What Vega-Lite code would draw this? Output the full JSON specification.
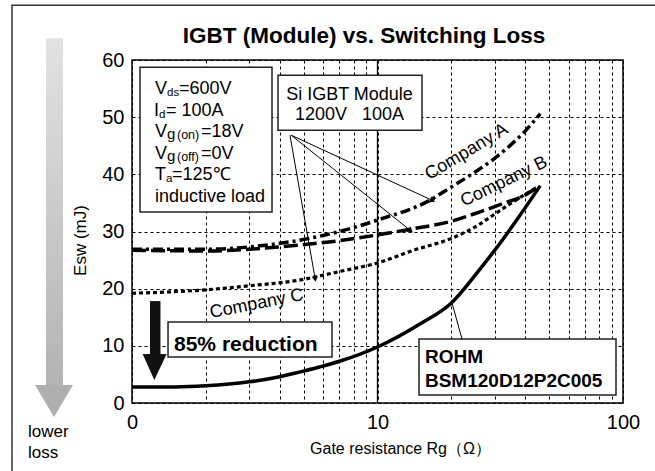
{
  "$schema": "https://vega.github.io/schema/vega-lite/v6.json",
  "width": 491,
  "height": 343,
  "autosize": {"type": "none"},
  "padding": {"left": 132, "top": 60, "right": 32, "bottom": 68},
  "background": "white",
  "config": {"font": "Liberation Sans", "view": {"stroke": "#000", "strokeWidth": 1.5}},
  "datasets": {
    "frame": [{"x": 0.3245, "x2": 200, "y": 69.58, "y2": -20}],
    "grayShaft": [{"x": 0.4465, "x2": 0.5235, "y": 63.81, "y2": 2.97}],
    "grayHead": [{"x": 0.4026, "y": 3.15, "y2": 3.15}, {"x": 0.4812, "y": 3.15, "y2": -2.45}, {"x": 0.5751, "y": 3.15, "y2": 3.15}],
    "vline": [{"x": 10, "y": 0, "y2": 60}],
    "curves": [
      {"series": "A", "x": 1, "y": 26.9}, {"series": "A", "x": 2, "y": 26.9}, {"series": "A", "x": 3, "y": 27.3}, {"series": "A", "x": 4.7, "y": 28.4}, {"series": "A", "x": 7, "y": 30.0}, {"series": "A", "x": 10, "y": 32.0}, {"series": "A", "x": 16.4, "y": 35.5}, {"series": "A", "x": 20, "y": 37.8}, {"series": "A", "x": 25, "y": 40.4}, {"series": "A", "x": 30, "y": 42.8}, {"series": "A", "x": 35, "y": 45.2}, {"series": "A", "x": 40, "y": 47.6}, {"series": "A", "x": 46, "y": 50.6},
      {"series": "B", "x": 1, "y": 26.7}, {"series": "B", "x": 2, "y": 26.6}, {"series": "B", "x": 3, "y": 26.9}, {"series": "B", "x": 4.7, "y": 27.6}, {"series": "B", "x": 7, "y": 28.4}, {"series": "B", "x": 10, "y": 29.4}, {"series": "B", "x": 13.6, "y": 30.4}, {"series": "B", "x": 20, "y": 31.8}, {"series": "B", "x": 26, "y": 33.4}, {"series": "B", "x": 33, "y": 35.0}, {"series": "B", "x": 40, "y": 36.4}, {"series": "B", "x": 46, "y": 38.1},
      {"series": "C", "x": 1, "y": 19.2}, {"series": "C", "x": 2, "y": 19.8}, {"series": "C", "x": 3, "y": 20.5}, {"series": "C", "x": 4.8, "y": 21.5}, {"series": "C", "x": 7, "y": 23.0}, {"series": "C", "x": 10, "y": 24.5}, {"series": "C", "x": 14, "y": 26.7}, {"series": "C", "x": 20, "y": 28.8}, {"series": "C", "x": 25, "y": 30.8}, {"series": "C", "x": 29, "y": 32.6}, {"series": "C", "x": 34, "y": 34.6}, {"series": "C", "x": 40, "y": 36.5}, {"series": "C", "x": 45, "y": 37.8},
      {"series": "R", "x": 1, "y": 2.8}, {"series": "R", "x": 1.5, "y": 2.8}, {"series": "R", "x": 2, "y": 3.0}, {"series": "R", "x": 3, "y": 3.7}, {"series": "R", "x": 4, "y": 4.6}, {"series": "R", "x": 4.8, "y": 5.4}, {"series": "R", "x": 5.8, "y": 6.3}, {"series": "R", "x": 7, "y": 7.3}, {"series": "R", "x": 10, "y": 9.8}, {"series": "R", "x": 15, "y": 13.9}, {"series": "R", "x": 20, "y": 17.5}, {"series": "R", "x": 26, "y": 23.3}, {"series": "R", "x": 32, "y": 28.3}, {"series": "R", "x": 38, "y": 32.8}, {"series": "R", "x": 46, "y": 38.0}
    ],
    "blackShaft": [{"x": 1.184, "x2": 1.306, "y": 17.83, "y2": 8.4}],
    "blackHead": [{"x": 1.105, "y": 8.57, "y2": 8.57}, {"x": 1.233, "y": 8.57, "y2": 4.02}, {"x": 1.384, "y": 8.57, "y2": 8.57}],
    "boxes": [
      {"name": "cond", "x": 1.078, "x2": 3.718, "y": 58.74, "y2": 33.39},
      {"name": "si", "x": 3.933, "x2": 15.18, "y": 57.34, "y2": 47.73},
      {"name": "red", "x": 1.402, "x2": 6.527, "y": 14.16, "y2": 8.04},
      {"name": "rohm", "x": 14.76, "x2": 93.65, "y": 11.19, "y2": 1.40}
    ],
    "leaders": [
      {"x": 4.40, "y": 46.85, "x2": 5.566, "y2": 21.85},
      {"x": 4.45, "y": 46.85, "x2": 13.56, "y2": 30.24},
      {"x": 4.45, "y": 46.85, "x2": 16.63, "y2": 35.49},
      {"x": 20.12, "y": 17.48, "x2": 22.09, "y2": 11.19}
    ],
    "tipC": [{"x": 5.566, "y": 21.85}],
    "tipB": [{"x": 13.56, "y": 30.24}],
    "tipA": [{"x": 16.63, "y": 35.49}],
    "title": [{"x": 8.81, "y": 62.94, "t": "IGBT (Module) vs. Switching Loss"}],
    "condBig": [
      {"x": 1.241, "y": 54.02, "t": "V"}, {"x": 1.554, "y": 54.02, "t": "=600V"},
      {"x": 1.229, "y": 50.26, "t": "I"}, {"x": 1.375, "y": 50.26, "t": "= 100A"},
      {"x": 1.241, "y": 46.50, "t": "V"}, {"x": 1.910, "y": 46.50, "t": "=18V"},
      {"x": 1.241, "y": 42.74, "t": "V"}, {"x": 1.910, "y": 42.74, "t": "=0V"},
      {"x": 1.241, "y": 38.99, "t": "T"}, {"x": 1.455, "y": 38.99, "t": "=125℃"},
      {"x": 1.241, "y": 35.23, "t": "inductive load"}
    ],
    "condSub": [
      {"x": 1.389, "y": 53.67, "t": "ds"}, {"x": 1.288, "y": 49.91, "t": "d"}, {"x": 1.375, "y": 38.64, "t": "a"}
    ],
    "condG": [{"x": 1.389, "y": 46.15, "t": "g"}, {"x": 1.389, "y": 42.39, "t": "g"}],
    "condParen": [{"x": 1.525, "y": 46.15, "t": "(on)"}, {"x": 1.525, "y": 42.39, "t": "(off)"}],
    "siText": [{"x": 7.69, "y": 52.97, "t": "Si IGBT Module"}, {"x": 7.69, "y": 49.48, "t": "1200V\u00a0\u00a0\u00a0100A"}],
    "redText": [{"x": 1.483, "y": 9.14, "t": "85% reduction"}],
    "rohmText": [{"x": 15.61, "y": 6.99, "t": "ROHM"}, {"x": 15.61, "y": 2.80, "t": "BSM120D12P2C005"}],
    "labA": [{"x": 23.08, "y": 43.9, "t": "Company A"}],
    "labB": [{"x": 32.75, "y": 38.7, "t": "Company B"}],
    "labC": [{"x": 3.221, "y": 17.31, "t": "Company C"}],
    "lower": [{"x": 0.3771, "y": -5.94, "t": "lower"}, {"x": 0.3771, "y": -9.62, "t": "loss"}]
  },
  "encoding": {
    "x": {
      "field": "x", "type": "quantitative",
      "scale": {"type": "log", "domain": [1, 100], "nice": false},
      "axis": {
        "values": [1, 2, 3, 4, 5, 6, 7, 8, 9, 10, 20, 30, 40, 50, 60, 70, 80, 90, 100],
        "labelExpr": "datum.value == 1 ? '0' : datum.value == 10 ? '10' : datum.value == 100 ? '100' : ''",
        "labelFlush": false, "labelOverlap": false,
        "grid": true, "gridDash": [3, 3], "gridColor": "#000", "gridWidth": 1,
        "ticks": false, "domain": false,
        "labelFontSize": 20, "labelColor": "#000", "labelPadding": 9,
        "title": "Gate resistance Rg（Ω）", "titleFontSize": 16, "titleFontWeight": "normal", "titleColor": "#000",
        "titleX": 268, "titleY": 50, "titleBaseline": "alphabetic"
      }
    },
    "y": {
      "field": "y", "type": "quantitative",
      "scale": {"domain": [0, 60], "nice": false, "zero": false},
      "axis": {
        "values": [0, 10, 20, 30, 40, 50, 60],
        "grid": true, "gridDash": [3, 3], "gridColor": "#000", "gridWidth": 1,
        "ticks": false, "domain": false,
        "labelFontSize": 20, "labelColor": "#000", "labelPadding": 8,
        "title": "Esw (mJ)", "titleFontSize": 17, "titleFontWeight": "normal", "titleColor": "#000",
        "titleX": -43, "titleY": 180
      }
    }
  },
  "layer": [
    {"data": {"name": "frame"}, "mark": {"type": "rect", "filled": false, "stroke": "#333", "strokeWidth": 1.5}, "encoding": {"x2": {"field": "x2"}, "y2": {"field": "y2"}}},
    {"data": {"name": "grayShaft"}, "mark": {"type": "rect", "fill": {"gradient": "linear", "x1": 0, "y1": 0, "x2": 0, "y2": 1, "stops": [{"offset": 0, "color": "#e2e2e2"}, {"offset": 1, "color": "#b3b3b3"}]}}, "encoding": {"x2": {"field": "x2"}, "y2": {"field": "y2"}}},
    {"data": {"name": "grayHead"}, "mark": {"type": "area", "orient": "vertical", "color": "#afafaf"}, "encoding": {"y2": {"field": "y2"}}},
    {"data": {"name": "vline"}, "mark": {"type": "rule", "color": "#000", "strokeWidth": 1.3}, "encoding": {"y2": {"field": "y2"}}},
    {"data": {"name": "curves"}, "transform": [{"filter": "datum.series == 'A'"}], "mark": {"type": "line", "color": "#000", "strokeWidth": 3.5, "strokeDash": [10, 4, 3, 4], "interpolate": "monotone"}, "encoding": {}},
    {"data": {"name": "curves"}, "transform": [{"filter": "datum.series == 'B'"}], "mark": {"type": "line", "color": "#000", "strokeWidth": 3.5, "strokeDash": [14, 5], "interpolate": "monotone"}, "encoding": {}},
    {"data": {"name": "curves"}, "transform": [{"filter": "datum.series == 'C'"}], "mark": {"type": "line", "color": "#000", "strokeWidth": 3.2, "strokeDash": [4, 3], "interpolate": "monotone"}, "encoding": {}},
    {"data": {"name": "curves"}, "transform": [{"filter": "datum.series == 'R'"}], "mark": {"type": "line", "color": "#000", "strokeWidth": 3.5, "interpolate": "monotone"}, "encoding": {}},
    {"data": {"name": "blackShaft"}, "mark": {"type": "rect", "color": "#111"}, "encoding": {"x2": {"field": "x2"}, "y2": {"field": "y2"}}},
    {"data": {"name": "blackHead"}, "mark": {"type": "area", "orient": "vertical", "color": "#111"}, "encoding": {"y2": {"field": "y2"}}},
    {"data": {"name": "boxes"}, "mark": {"type": "rect", "fill": "#fff", "stroke": "#222", "strokeWidth": 1.5}, "encoding": {"x2": {"field": "x2"}, "y2": {"field": "y2"}}},
    {"data": {"name": "leaders"}, "mark": {"type": "rule", "color": "#000", "strokeWidth": 1}, "encoding": {"x2": {"field": "x2"}, "y2": {"field": "y2"}}},
    {"data": {"name": "tipC"}, "mark": {"type": "point", "shape": "triangle", "filled": true, "opacity": 1, "size": 40, "angle": 170, "color": "#000"}},
    {"data": {"name": "tipB"}, "mark": {"type": "point", "shape": "triangle", "filled": true, "opacity": 1, "size": 40, "angle": 129, "color": "#000"}},
    {"data": {"name": "tipA"}, "mark": {"type": "point", "shape": "triangle", "filled": true, "opacity": 1, "size": 40, "angle": 115, "color": "#000"}},
    {"data": {"name": "title"}, "mark": {"type": "text", "fontSize": 22.5, "fontWeight": "bold", "align": "center", "baseline": "alphabetic", "color": "#000"}, "encoding": {"text": {"field": "t"}}},
    {"data": {"name": "condBig"}, "mark": {"type": "text", "fontSize": 18, "align": "left", "baseline": "alphabetic", "color": "#000"}, "encoding": {"text": {"field": "t"}}},
    {"data": {"name": "condSub"}, "mark": {"type": "text", "fontSize": 11.5, "align": "left", "baseline": "alphabetic", "color": "#000"}, "encoding": {"text": {"field": "t"}}},
    {"data": {"name": "condG"}, "mark": {"type": "text", "fontSize": 15, "align": "left", "baseline": "alphabetic", "color": "#000"}, "encoding": {"text": {"field": "t"}}},
    {"data": {"name": "condParen"}, "mark": {"type": "text", "fontSize": 12.5, "align": "left", "baseline": "alphabetic", "color": "#000"}, "encoding": {"text": {"field": "t"}}},
    {"data": {"name": "siText"}, "mark": {"type": "text", "fontSize": 18, "align": "center", "baseline": "alphabetic", "color": "#000"}, "encoding": {"text": {"field": "t"}}},
    {"data": {"name": "redText"}, "mark": {"type": "text", "fontSize": 21, "fontWeight": "bold", "align": "left", "baseline": "alphabetic", "color": "#000"}, "encoding": {"text": {"field": "t"}}},
    {"data": {"name": "rohmText"}, "mark": {"type": "text", "fontSize": 19, "fontWeight": "bold", "align": "left", "baseline": "alphabetic", "color": "#000"}, "encoding": {"text": {"field": "t"}}},
    {"data": {"name": "labA"}, "mark": {"type": "text", "fontSize": 18, "align": "center", "baseline": "middle", "angle": 329, "color": "#000"}, "encoding": {"text": {"field": "t"}}},
    {"data": {"name": "labB"}, "mark": {"type": "text", "fontSize": 18, "align": "center", "baseline": "middle", "angle": 334, "color": "#000"}, "encoding": {"text": {"field": "t"}}},
    {"data": {"name": "labC"}, "mark": {"type": "text", "fontSize": 18, "align": "center", "baseline": "middle", "angle": 349, "color": "#000"}, "encoding": {"text": {"field": "t"}}},
    {"data": {"name": "lower"}, "mark": {"type": "text", "fontSize": 17, "align": "left", "baseline": "alphabetic", "color": "#000"}, "encoding": {"text": {"field": "t"}}}
  ]
}
